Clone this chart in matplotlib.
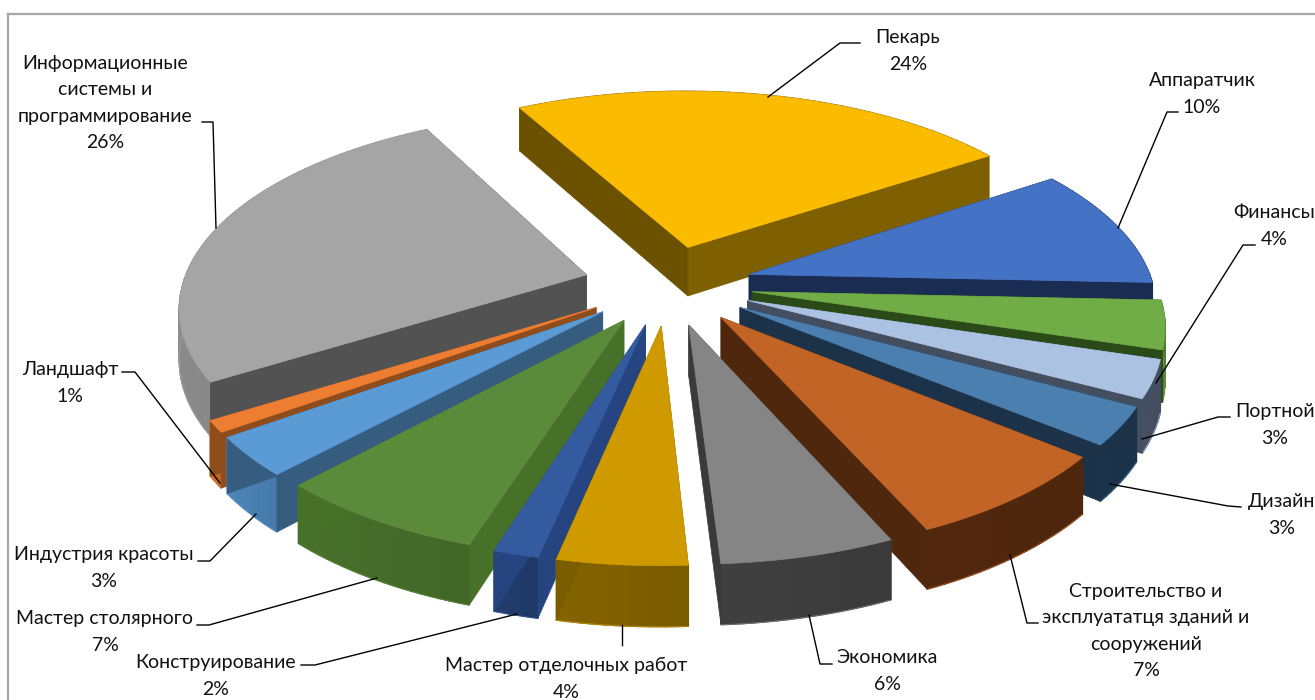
#!/usr/bin/env python3
# -*- coding: utf-8 -*-
"""
Exploded 3D pie of professions, drawn by hand with a simple perspective
"""
import numpy as np
import matplotlib
matplotlib.use("Agg")
import matplotlib.pyplot as plt
from matplotlib.colors import to_rgb

# data, clockwise from the back of the pie
names = ["Пекарь", "Аппаратчик", "Финансы", "Портной", "Дизайн",
         "Строительство и\nэксплуататця зданий и\nсооружений", "Экономика",
         "Мастер отделочных работ", "Конструирование", "Мастер столярного",
         "Индустрия красоты", "Ландшафт",
         "Информационные\nсистемы и\nпрограммирование"]
# the labels show them rounded
shares = [23.6, 10.0, 4.0, 3.1, 3.1, 7.4, 5.8, 4.3, 1.5, 7.1, 3.2, 0.95, 25.95]

# colours of each slice
top_colors = ["#FBBC00", "#4472C4", "#70AD47", "#ABC2E2", "#4A7FB0", "#C16425", "#858585",
              "#CF9A00", "#345BA0", "#5B8B3A", "#5B9BD5", "#ED7D31", "#A5A5A5"]
face_colors = ["#7F6000", "#1A2C52", "#2C4A18", "#434F60", "#1B3248", "#4F270D", "#3A3A3A",
               "#7A5D00", "#264580", "#477029", "#365D80", "#8F4C1D", "#525252"]
rim_colors = ["#7F6000", "#1A2C52", "#4E7A30", "#434F60", "#1B3248", "#4F270D", "#3D3D3D",
              "#7F6000", "#213C6B", "#456C2A", "#4A80B3", "#C96A2A", "#8F8F8F"]

# label centres and leader lines, in pixels of the picture
label_pos = [(908, 51), (1202, 94), (1274, 226), (1275, 425), (1282, 515), (1146, 631), (887, 671),
             (566, 679), (216, 676), (105, 632), (104, 568), (70, 383), (105, 103)]
leaders = [[(860, 43), (840, 43), (768, 97)],
           [(1178, 112), (1167, 112), (1118, 228)],
           [(1255, 245), (1243, 245), (1156, 383)],
           [(1230, 417), (1218, 417), (1142, 439)],
           [(1241, 507), (1228, 506), (1110, 484)],
           [(1038, 623), (1027, 623), (1010, 555)],
           [(832, 664), (820, 664), (809, 615)],
           [(622, 625), (622, 645)],
           [(301, 665), (315, 665), (517, 614)],
           [(197, 625), (209, 625), (377, 578)],
           [(198, 561), (210, 561), (256, 514)],
           [(122, 372), (135, 372), (220, 483)],
           [(202, 122), (213, 122), (216, 228)]]

# pie geometry
start_deg = -28.5
cx, cy = 668, 285
scale_x, scale_y = 404, 190
persp = 0.15
explode = 0.21
height = 50


def project(u, v, z=0):
    w = 1 / (1 + persp * v)
    return cx + scale_x * u * w, cy - scale_y * v * w + z * w


def shade(color, f):
    return tuple(min(1, c * f) for c in to_rgb(color))


fig = plt.figure(figsize=(13.15, 7), dpi=100)
ax = fig.add_axes([0, 0, 1, 1])
ax.set_xlim(0, 1315)
ax.set_ylim(700, 0)
ax.axis("off")

# chart frame
ax.plot([8, 8], [700, 14], color="#A6A6A6", lw=1.6)
ax.plot([8, 1315], [14, 14], color="#A6A6A6", lw=1.6)

edges = start_deg + np.cumsum([0] + shares) / sum(shares) * 360
slices = []
for i in range(len(shares)):
    mid = np.radians((edges[i] + edges[i + 1]) / 2)
    slices.append((np.cos(mid), i))

# back slices first, everything stays in drawing order
for _, i in sorted(slices, reverse=True):
    a0, a1 = np.radians(edges[i]), np.radians(edges[i + 1])
    mid = (a0 + a1) / 2
    tu, tv = explode * np.sin(mid), explode * np.cos(mid)
    ang = np.linspace(a0, a1, max(int(shares[i] * 3), 4))
    u = tu + np.sin(ang)
    v = tv + np.cos(ang)

    # outer rim, cut in strips for the soft shading
    xt, yt = project(u, v)
    xb, yb = project(u, v, height)
    for k in range(len(ang) - 1):
        f = 0.95 + 0.1 * k / (len(ang) - 1)
        ax.fill([xt[k], xt[k + 1], xb[k + 1], xb[k]], [yt[k], yt[k + 1], yb[k + 1], yb[k]],
                color=shade(rim_colors[i], f), lw=1, zorder=2)
    ax.plot(xb, yb, color=top_colors[i], lw=0.7, alpha=0.7, zorder=2)

    # the two cut faces
    x0t, y0t = project(tu, tv)
    x0b, y0b = project(tu, tv, height)
    for k, f in ((-1, 1.0), (0, 0.85 if i == 0 else 1.0)):
        ax.fill([x0t, xt[k], xb[k], x0b], [y0t, yt[k], yb[k], y0b],
                color=shade(face_colors[i], f), lw=0.5, zorder=2)

    # top
    ax.fill(np.r_[x0t, xt], np.r_[y0t, yt], color=top_colors[i], lw=0.5, zorder=2)

for name, share, (lx, ly) in zip(names, shares, label_pos):
    ax.text(lx, ly, "%s\n%.0f%%" % (name, share), ha="center", va="center", fontsize=14,
            family=["Lato", "Open Sans"], color="#111111", linespacing=1.68, zorder=5)

for line in leaders:
    xs, ys = zip(*line)
    ax.plot(xs, ys, color="black", lw=1, zorder=4)

fig.savefig("out.png", dpi=100)
